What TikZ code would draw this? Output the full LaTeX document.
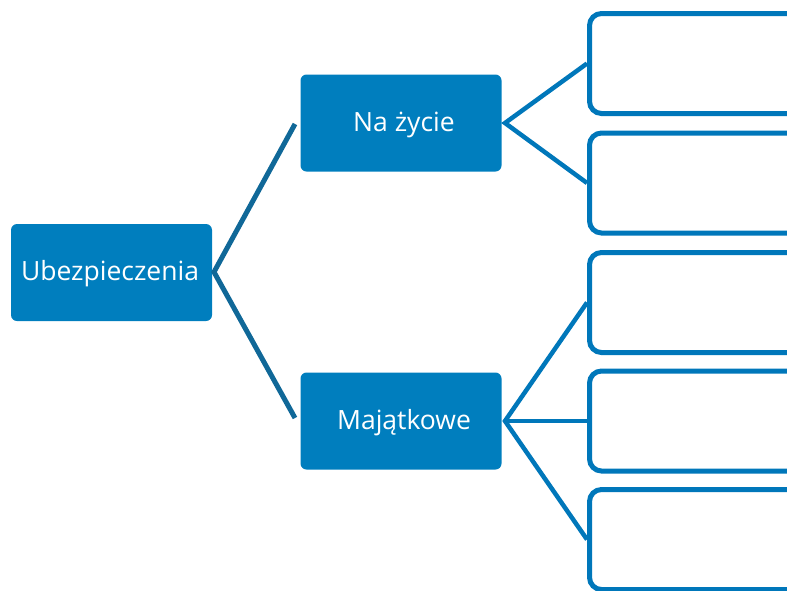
\documentclass[tikz,border=0pt]{standalone}
\usepackage{fontspec}
\setmainfont{Open Sans}
\definecolor{boxblue}{RGB}{0,126,190}
\definecolor{edgeblue}{RGB}{0,119,186}
\definecolor{rootline}{RGB}{16,104,152}
\begin{document}
\begin{tikzpicture}[x=1pt,y=-1pt,
  filledbox/.style={fill=boxblue,draw=none,rounded corners=6pt,
    minimum width=201pt,minimum height=97pt,inner sep=0pt},
  boxtext/.style={text=white,font=\fontsize{26.5}{30}\selectfont,inner sep=0pt},
  emptybox/.style={draw=edgeblue,line width=5pt,rounded corners=12pt,fill=white,
    minimum width=260pt,minimum height=100pt,inner sep=0pt,anchor=west},
  conn/.style={draw=edgeblue,line width=4.5pt,line join=miter},
  rootconn/.style={draw=rootline,line width=5pt,line join=miter}]
\useasboundingbox (0,0) rectangle (787,590);
\clip (0,0) rectangle (787,590);
\node[filledbox] (root) at (111.5,272.5) {};
\node[filledbox] (life) at (401,123) {};
\node[filledbox] (prop) at (401,421) {};
\node[boxtext] (roott) at (110,274) {Ubezpieczenia};
\node[boxtext] (lifet) at (404,125) {Na życie};
\node[boxtext] (propt) at (404,423) {Majątkowe};
\node[emptybox] (b1) at (587,63.5) {};
\node[emptybox] (b2) at (587,183) {};
\node[emptybox] (b3) at (587,302.5) {};
\node[emptybox] (b4) at (587,421) {};
\node[emptybox] (b5) at (587,539.5) {};
\coordinate (ra) at (214,272);
\coordinate (rl) at (295,124);
\coordinate (rp) at (295,418);
\coordinate (la) at (505,123);
\coordinate (pa) at (505,421);
\draw[rootconn] (rl) -- (ra) -- (rp);
\draw[conn] (b1.west) -- (la) -- (b2.west);
\draw[conn] (b3.west) -- (pa) -- (b5.west);
\draw[conn] (pa) -- (b4.west);
\end{tikzpicture}
\end{document}
